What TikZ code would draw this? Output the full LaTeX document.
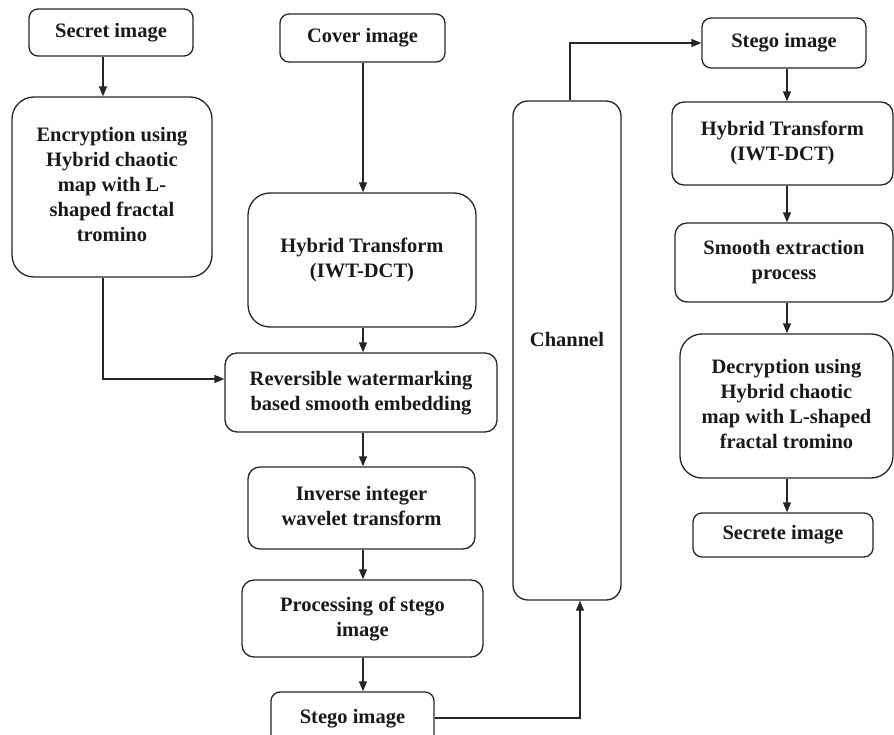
\documentclass[tikz,border=0pt]{standalone}
\usepackage{fontspec}
\setmainfont{Liberation Serif}
\usetikzlibrary{arrows.meta}
\newcommand\boxtxt[2]{\raisebox{#1}{\begin{tabular}{@{}c@{}}#2\end{tabular}}}
\begin{document}
\begin{tikzpicture}[x=1pt,y=-1pt,
  box/.style={draw=black!85, line width=1.3pt, rounded corners=#1, inner sep=0pt,
    text=black!90, font=\fontsize{20.5}{25}\selectfont\bfseries},
  box/.default=9pt,
  conn/.style={draw=black!85, line width=1.3pt},
  arr/.style={conn, -{Triangle[length=10pt,width=8pt]}}]
\useasboundingbox (0,0) rectangle (894,735);
\clip (-1,-1) rectangle (895,736);
% left column
\node[box, minimum width=164pt, minimum height=47pt] (secret) at (111,32.5) {Secret image};
\node[box=22pt, minimum width=200pt, minimum height=180pt] (enc) at (112,187)
  {\boxtxt{7pt}{Encryption using\\Hybrid chaotic\\map with L-\\shaped fractal\\tromino}};
% middle column
\node[box, minimum width=165pt, minimum height=48pt] (cover) at (362.5,38) {Cover image};
\node[box=22pt, minimum width=228pt, minimum height=134pt] (hyb1) at (362,260)
  {\boxtxt{6pt}{Hybrid Transform\\(IWT-DCT)}};
\node[box=12pt, minimum width=272pt, minimum height=79pt] (rev) at (361,392.5)
  {\boxtxt{0pt}{Reversible watermarking\\based smooth embedding}};
\node[box=12pt, minimum width=227pt, minimum height=82pt] (inv) at (361.5,508)
  {\boxtxt{5pt}{Inverse integer\\wavelet transform}};
\node[box=12pt, minimum width=241pt, minimum height=77pt] (proc) at (362.5,618.5)
  {\boxtxt{1pt}{Processing of stego\\image}};
\node[box, minimum width=163pt, minimum height=52pt] (steg1) at (352.5,718)
  {\boxtxt{4pt}{Stego image}};
% channel
\node[box=15pt, minimum width=108pt, minimum height=499pt] (chan) at (567,350.5)
  {\boxtxt{25pt}{Channel}};
% right column
\node[box, minimum width=164pt, minimum height=50pt] (steg2) at (784,43) {Stego image};
\node[box=12pt, minimum width=221pt, minimum height=83pt] (hyb2) at (782.5,143.5)
  {\boxtxt{4pt}{Hybrid Transform\\(IWT-DCT)}};
\node[box=12pt, minimum width=218pt, minimum height=79pt] (smooth) at (784,262.5)
  {\boxtxt{3pt}{Smooth extraction\\process}};
\node[box=22pt, minimum width=213pt, minimum height=144pt] (dec) at (786.5,406)
  {\boxtxt{6pt}{Decryption using\\Hybrid chaotic\\map with L-shaped\\fractal tromino}};
\node[box, minimum width=180pt, minimum height=44pt] (secrete) at (783,535) {Secrete image};
% helper coordinates
\coordinate (xa) at (103,0);
\coordinate (ya) at (0,379);
\coordinate (xc) at (363,0);
\coordinate (xb) at (580,0);
\coordinate (xt) at (570,0);
\coordinate (xr) at (787,0);
% connectors
\draw[arr] (secret.south -| xa) -- (enc.north -| xa);
\draw[arr] (enc.south -| xa) |- (rev.west |- ya);
\draw[arr] (cover.south -| xc) -- (hyb1.north -| xc);
\draw[arr] (hyb1.south -| xc) -- (rev.north -| xc);
\draw[arr] (rev.south -| xc) -- (inv.north -| xc);
\draw[arr] (inv.south -| xc) -- (proc.north -| xc);
\draw[arr] (proc.south -| xc) -- (steg1.north -| xc);
\draw[arr] (steg1.east) -| (chan.south -| xb);
\draw[arr] (chan.north -| xt) |- (steg2.west);
\draw[arr] (steg2.south -| xr) -- (hyb2.north -| xr);
\draw[arr] (hyb2.south -| xr) -- (smooth.north -| xr);
\draw[arr] (smooth.south -| xr) -- (dec.north -| xr);
\draw[arr] (dec.south -| xr) -- (secrete.north -| xr);
\end{tikzpicture}
\end{document}
